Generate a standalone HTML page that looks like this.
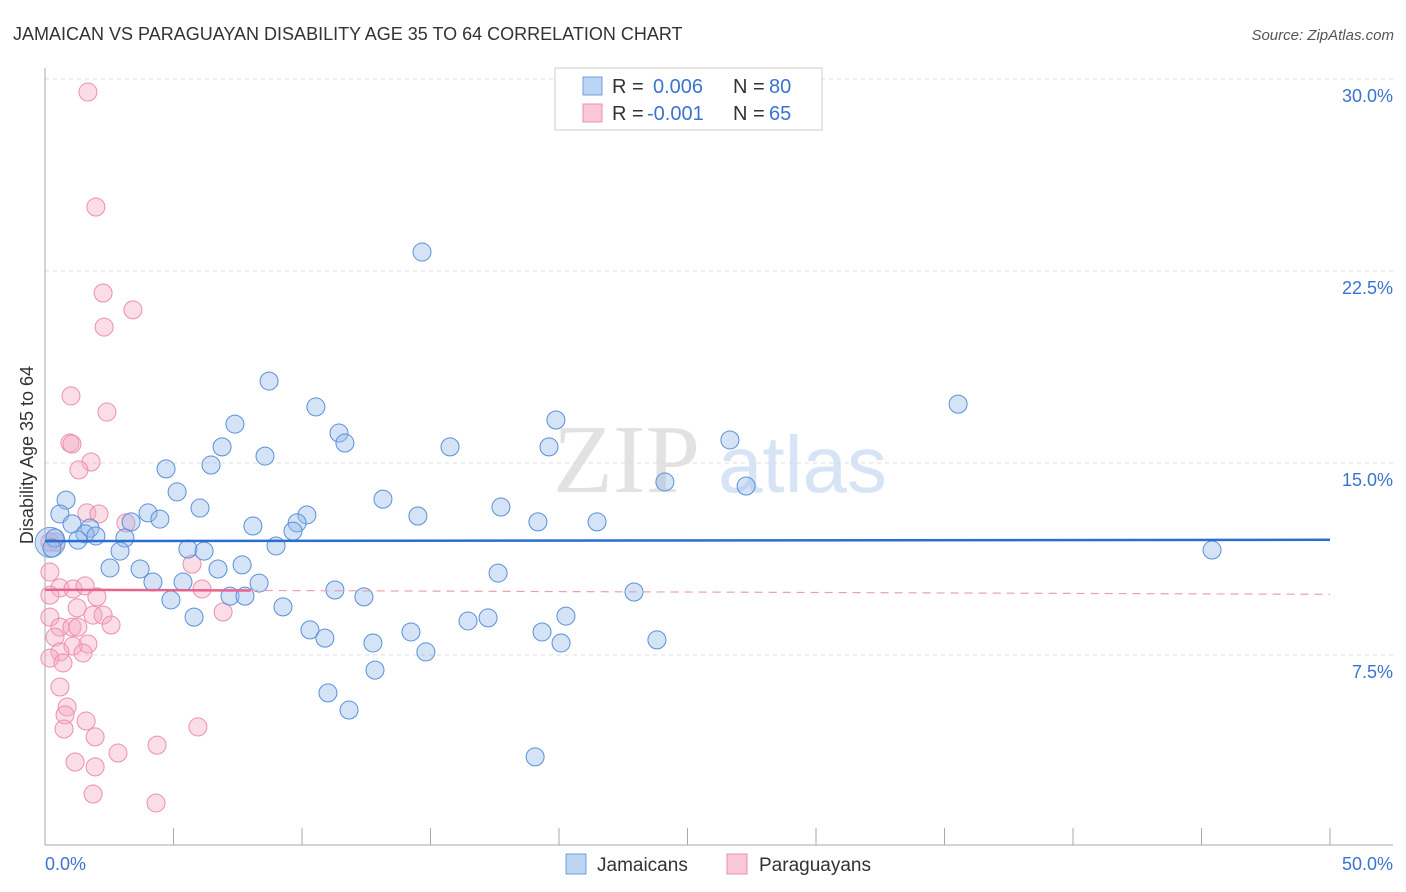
<!DOCTYPE html>
<html><head><meta charset="utf-8">
<style>
body{margin:0;background:#fff;font-family:"Liberation Sans",sans-serif;}
svg{display:block}
</style></head>
<body>
<svg id="chart" width="1406" height="892" xmlns="http://www.w3.org/2000/svg">
<text x="13" y="40" font-size="18" fill="#333">JAMAICAN VS PARAGUAYAN DISABILITY AGE 35 TO 64 CORRELATION CHART</text>
<text x="1394" y="40" font-size="15" fill="#555" font-style="italic" text-anchor="end">Source: ZipAtlas.com</text>
<g>
<text x="553" y="492" font-size="98" fill="#e2e2e2" font-family="Liberation Serif,serif">ZIP</text>
<text x="718" y="492" font-size="80" fill="#d6e4f5">atlas</text>
</g>
<g id="grid"></g>
<g id="axes"></g>
<g id="marks"></g>
<text transform="translate(33,455) rotate(-90)" font-size="18" fill="#333" text-anchor="middle">Disability Age 35 to 64</text>
<g>
<rect x="555" y="68" width="267" height="62" fill="#fff" stroke="#ccc"/>
<rect x="583" y="77" width="19" height="18" fill="#bcd5f5" stroke="#6f9ee0"/>
<rect x="583" y="104" width="19" height="18" fill="#f9c7d5" stroke="#ec90ab"/>
<text x="612" y="93" font-size="20" fill="#333">R =</text><text x="653" y="93" font-size="20" fill="#3a74d0">0.006</text>
<text x="733" y="93" font-size="20" fill="#333">N =</text><text x="769" y="93" font-size="20" fill="#3a74d0">80</text>
<text x="612" y="120" font-size="20" fill="#333">R =</text><text x="647" y="120" font-size="20" fill="#3a74d0">-0.001</text>
<text x="733" y="120" font-size="20" fill="#333">N =</text><text x="769" y="120" font-size="20" fill="#3a74d0">65</text>
</g>
<g>
<rect x="566" y="854" width="20" height="20" fill="#bcd5f5" stroke="#6f9ee0"/>
<text x="597" y="871" font-size="19" fill="#333">Jamaicans</text>
<rect x="727" y="854" width="20" height="20" fill="#f9c7d5" stroke="#ec90ab"/>
<text x="759" y="871" font-size="19" fill="#333">Paraguayans</text>
</g>
</svg>
<script>
const yTicks=[7.5,15.0,22.5,30.0];
const yTickLabels=["7.5%","15.0%","22.5%","30.0%"];
const xTicks=[0,5,10,15,20,25,30,35,40,45,50];
const xTickLabels=["0.0%","50.0%"];
const jamX=[14.67,8.72,35.53,10.54,7.39,19.88,11.44,11.67,26.65,6.89,15.76,19.61,8.56,6.46,4.71,24.12,27.28,5.14,0.82,13.15,6.03,17.74,4.01,4.47,10.19,14.51,0.58,19.18,21.48,9.81,3.35,1.05,1.75,8.09,9.65,1.56,1.98,0.39,3.11,1.28,0.27,5.56,6.19,8.99,2.92,45.41,7.67,2.53,3.70,6.73,17.63,4.20,5.37,8.33,11.28,22.92,7.20,7.78,12.41,4.90,9.26,20.27,5.80,16.46,17.24,10.31,14.24,19.34,10.89,12.76,20.08,23.81,14.82,12.84,11.01,11.83,19.07];
const jamY=[23.24,18.20,17.30,17.19,16.52,16.68,16.17,15.78,15.90,15.63,15.63,15.63,15.27,14.92,14.77,14.26,14.10,13.87,13.55,13.59,13.24,13.28,13.05,12.81,12.97,12.93,13.01,12.70,12.70,12.66,12.70,12.62,12.46,12.54,12.34,12.23,12.15,12.07,12.07,11.99,11.68,11.64,11.56,11.76,11.56,11.60,11.02,10.90,10.86,10.86,10.70,10.35,10.35,10.31,10.04,9.96,9.80,9.80,9.77,9.65,9.38,9.02,8.98,8.83,8.95,8.48,8.40,8.40,8.16,7.97,7.97,8.09,7.62,6.91,6.02,5.35,3.52];
const parX=[1.67,1.98,2.26,3.42,2.30,1.01,2.41,0.97,1.05,1.79,1.32,1.63,2.10,3.15,0.19,0.43,5.72,0.19,0.58,1.09,1.56,0.19,2.02,6.11,1.25,1.87,2.26,2.57,0.19,0.58,1.05,1.28,0.39,1.67,1.09,1.48,0.58,0.19,0.70,6.93,0.58,0.86,0.78,1.60,0.74,5.95,1.95,4.36,2.84,1.17,1.95,1.87,4.32];
const parY=[29.49,25.0,21.64,20.98,20.31,17.62,16.99,15.78,15.74,15.04,14.73,13.05,13.01,12.66,11.91,11.91,11.05,10.74,10.12,10.08,10.20,9.84,9.77,10.08,9.34,9.06,9.06,8.67,8.98,8.59,8.59,8.59,8.20,7.93,7.85,7.58,7.62,7.38,7.19,9.18,6.25,5.47,5.16,4.92,4.61,4.69,4.30,3.98,3.67,3.32,3.13,2.07,1.72];
const jamTrend=[11.95,12.0];
const parTrend=[10.05,9.87];
const parSolidEnd=8;

const NS="http://www.w3.org/2000/svg";
const X0=45,X1=1330,Y0=847,PXY=25.6;
function sx(v){return X0+(X1-X0)*v/50;}
function sy(v){return Y0-v*PXY;}
function mk(tag,attrs,parent){const e=document.createElementNS(NS,tag);for(const k in attrs)e.setAttribute(k,attrs[k]);parent.appendChild(e);return e;}
const grid=document.getElementById('grid'),axes=document.getElementById('axes'),marks=document.getElementById('marks');
yTicks.forEach((t,i)=>{
  const l=mk('line',{x1:X0,x2:1393,y1:sy(t),y2:sy(t),stroke:'#ddd','stroke-dasharray':'4,4'},grid);
  
  
  const tx=mk('text',{x:1393,y:sy(t)+23,'font-size':18,fill:'#3a74d0','text-anchor':'end'},axes);
  tx.textContent=yTickLabels[i];
  
  
});
const ax=mk('line',{x1:X0,x2:X0,y1:68,y2:845,stroke:'#aaa'},axes);


const bx=mk('line',{x1:X0,x2:1393,y1:845,y2:845,stroke:'#aaa'},axes);


xTicks.forEach(t=>{
  const l=mk('line',{x1:sx(t),x2:sx(t),y1:828,y2:845,stroke:'#aaa'},axes);
  
  
});
const xl0=mk('text',{x:45,y:870,'font-size':18,fill:'#3a74d0'},axes);
xl0.textContent=xTickLabels[0];


const xl1=mk('text',{x:1393,y:870,'font-size':18,fill:'#3a74d0','text-anchor':'end'},axes);
xl1.textContent=xTickLabels[1];



parX.forEach((x,i)=>{
  const c=mk('circle',{cx:sx(x),cy:sy(parY[i]),r:9,fill:'rgba(246,170,195,0.4)',stroke:'#ec8fab','stroke-width':1},marks);
  
  
});
const big=mk('circle',{cx:sx(0.2),cy:sy(11.9),r:15,fill:'rgba(150,185,235,0.45)',stroke:'#6f9ee0'},marks);


jamX.forEach((x,i)=>{
  const c=mk('circle',{cx:sx(x),cy:sy(jamY[i]),r:9,fill:'rgba(150,185,235,0.4)',stroke:'#5a8fd8','stroke-width':1},marks);
  
  
});
const jt=mk('line',{x1:sx(0),x2:sx(50),y1:sy(jamTrend[0]),y2:sy(jamTrend[1]),stroke:'#2a6fd0','stroke-width':2.5},marks);


const pm=parTrend[0]+(parTrend[1]-parTrend[0])*parSolidEnd/50;
const pt1=mk('line',{x1:sx(0),x2:sx(parSolidEnd),y1:sy(parTrend[0]),y2:sy(pm),stroke:'#e8648d','stroke-width':2.5},marks);


const pt2=mk('line',{x1:sx(parSolidEnd),x2:sx(50),y1:sy(pm),y2:sy(parTrend[1]),stroke:'#e8a0b5','stroke-width':1.2,'stroke-dasharray':'8,6'},marks);


</script>
</body></html>
